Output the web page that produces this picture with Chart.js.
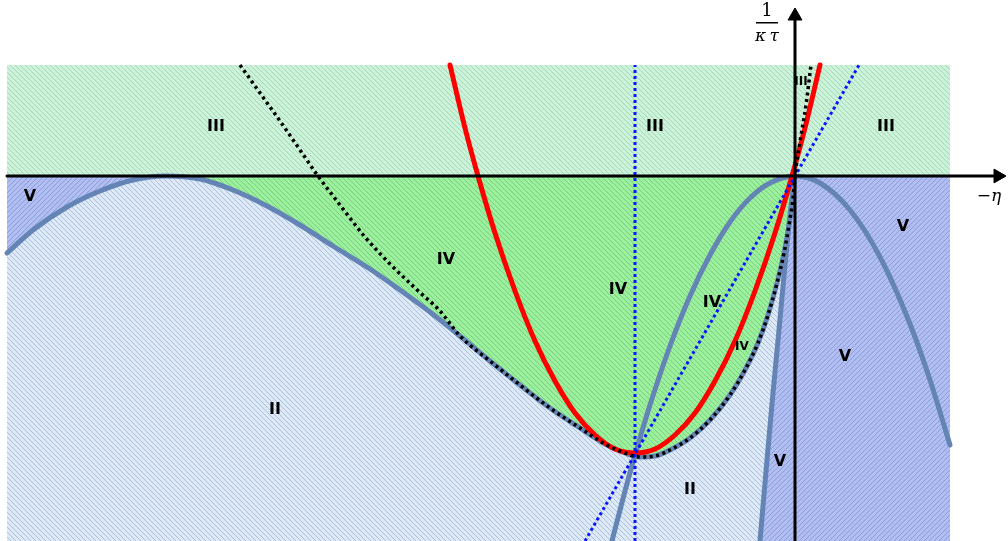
<!DOCTYPE html>
<html>
<head>
<meta charset="utf-8">
<script src="https://cdn.jsdelivr.net/npm/chart.js@4.4.1/dist/chart.umd.min.js"></script>
<style>
  html, body { margin: 0; padding: 0; background: #fff; }
  #wrap { width: 1008px; height: 541px; }
</style>
</head>
<body>
<div id="wrap"><canvas id="chart"></canvas></div>
<script>
// window of the diagram (horizontal: -eta, vertical: 1/(kappa tau))
const xRange = [-7.95, 2.13];
const yRange = [-3.65, 1.76];
const boxLeft = -7.88, boxRight = 1.55, boxTop = 1.11;

// thick steel-blue curve with the two tangencies to the axis
const curveA = [[-7.88,-0.77],[-7.62,-0.54],[-7.28,-0.31],[-6.95,-0.15],[-6.62,-0.04],[-6.30,0],
  [-5.95,-0.03],[-5.62,-0.14],[-5.28,-0.30],[-4.95,-0.49],[-4.62,-0.70],[-4.25,-0.93],[-3.95,-1.14],
  [-3.65,-1.36],[-3.35,-1.60],[-3.05,-1.85],[-2.75,-2.09],[-2.45,-2.32],[-2.15,-2.52],[-1.90,-2.68],
  [-1.70,-2.77],[-1.55,-2.81],[-1.40,-2.80],[-1.25,-2.74],[-1.05,-2.62],[-0.85,-2.44],[-0.65,-2.19],
  [-0.50,-1.94],[-0.37,-1.67],[-0.27,-1.39],[-0.18,-1.07],[-0.11,-0.77],[-0.06,-0.49],[-0.02,-0.22],[0,0]];
// arch through the origin
const curveB = [[-1.83,-3.65],[-1.70,-3.15],[-1.60,-2.79],[-1.45,-2.29],[-1.25,-1.70],[-1.05,-1.20],
  [-0.85,-0.79],[-0.65,-0.46],[-0.45,-0.22],[-0.25,-0.07],[0,0],[0.25,-0.07],[0.55,-0.34],
  [0.85,-0.81],[1.15,-1.48],[1.35,-2.04],[1.55,-2.69]];
// steep curve left of the vertical axis
const curveC = [[-0.35,-3.65],[-0.28,-2.84],[-0.22,-2.17],[-0.16,-1.54],[-0.10,-0.89],[-0.05,-0.39],[-0.02,-0.14],[0,0]];
// red parabola
const redCurve = [[-3.45,1.11],[-3.30,0.48],[-3.17,0],[-3.00,-0.57],[-2.80,-1.15],[-2.60,-1.65],[-2.40,-2.05],
  [-2.20,-2.37],[-2.00,-2.59],[-1.80,-2.73],[-1.60,-2.77],[-1.40,-2.73],[-1.20,-2.59],[-1.00,-2.37],
  [-0.80,-2.05],[-0.60,-1.65],[-0.40,-1.15],[-0.20,-0.57],[-0.03,0],[0.10,0.48],[0.25,1.11]];
// black dotted envelope
const blackDots = [[-5.55,1.11],[-5.35,0.83],[-5.15,0.55],[-4.95,0.26],[-4.77,0],[-4.55,-0.29],[-4.30,-0.61],
  [-4.05,-0.88],[-3.80,-1.12],[-3.55,-1.35],[-3.35,-1.60],[-3.05,-1.85],[-2.75,-2.09],[-2.45,-2.32],
  [-2.15,-2.52],[-1.90,-2.68],[-1.70,-2.77],[-1.55,-2.81],[-1.40,-2.80],[-1.25,-2.74],[-1.05,-2.62],
  [-0.85,-2.44],[-0.65,-2.19],[-0.50,-1.94],[-0.37,-1.67],[-0.27,-1.39],[-0.18,-1.07],[-0.11,-0.77],
  [-0.06,-0.49],[-0.02,-0.22],[0,0],[0.05,0.34],[0.11,0.71],[0.16,1.11]];
// blue dotted lines
const blueDiag = [[-2.10,-3.65],[0,0],[0.64,1.11]];
const blueVert = [[-1.60,-3.65],[-1.60,1.11]];

// region labels
const regionText = ['III','III','III','III','IV','IV','IV','IV','V','V','V','V','II','II'];
const regionPos = [[-5.79,0.49],[-1.40,0.49],[0.91,0.49],[0.06,0.94],[-3.49,-0.84],[-1.77,-1.14],
  [-0.83,-1.27],[-0.53,-1.71],[-7.65,-0.21],[1.08,-0.51],[0.50,-1.81],[-0.15,-2.86],[-5.20,-2.34],[-1.05,-3.14]];
const regionSmall = [false,false,false,true,false,false,false,true,false,false,false,false,false,false];

const pts = arr => arr.map(p => ({ x: p[0], y: p[1] }));

function hatch(bg, fg, dir) {
  const c = document.createElement('canvas');
  c.width = 5; c.height = 5;
  const g = c.getContext('2d');
  g.fillStyle = bg; g.fillRect(0, 0, 5, 5);
  g.fillStyle = fg;
  for (let i = 0; i < 5; i++) {
    g.fillRect(i, dir > 0 ? 4 - i : i, 1, 1);
  }
  return g.createPattern(c, 'repeat');
}

const fillIII = hatch('#cdf2da', '#a3d9b6', -1);
const fillIV = hatch('#9cf09c', '#78cf86', -1);
const fillII = hatch('#dde9f6', '#a9bfda', -1);
const fillV = hatch('#b0bef2', '#8c9cdb', 1);

const steel = '#6384b4';

function region(data, color, fill) {
  return { data: pts(data), borderWidth: 0, pointRadius: 0, backgroundColor: color, fill: fill, tension: 0 };
}
function curve(data, color, width, dash, smooth) {
  return {
    data: pts(data), borderColor: color, borderWidth: width, borderDash: dash || [],
    pointRadius: 0, fill: false, tension: 0,
    cubicInterpolationMode: smooth ? 'monotone' : 'default', borderCapStyle: dash ? 'butt' : 'round'
  };
}

const labelPlugin = {
  id: 'labels',
  afterDatasetsDraw(chart) {
    const ctx = chart.ctx, xs = chart.scales.x, ys = chart.scales.y;
    ctx.save();
    ctx.fillStyle = '#000';
    ctx.textAlign = 'center';
    ctx.textBaseline = 'middle';
    regionText.forEach((t, i) => {
      ctx.font = (regionSmall[i] ? 'bold 12px' : 'bold 16px') + ' "DejaVu Sans", sans-serif';
      ctx.fillText(t, xs.getPixelForValue(regionPos[i][0]), ys.getPixelForValue(regionPos[i][1]));
    });
    // axis names
    const ax = xs.getPixelForValue(-0.28), ay = ys.getPixelForValue(1.54);
    ctx.font = '18px "DejaVu Serif", serif';
    ctx.fillText('1', ax, ay - 11);
    ctx.fillRect(ax - 11, ay, 22, 1.5);
    ctx.font = 'italic 17px "DejaVu Serif", serif';
    ctx.fillText('\u03ba\u2009\u03c4', ax, ay + 15);
    ctx.fillText('\u2212\u03b7', xs.getPixelForValue(1.94), ys.getPixelForValue(-0.21));
    ctx.restore();
  }
};

new Chart(document.getElementById('chart'), {
  type: 'line',
  data: {
    datasets: [
      curve([[boxLeft, 0], [2.02, 0]], '#000', 3),
      curve([[0, yRange[0]], [0, 1.58]], '#000', 3),
      { data: pts([[2.03, 0]]), pointStyle: 'triangle', rotation: 90, pointRadius: 8,
        pointBackgroundColor: '#000', pointBorderColor: '#000', showLine: false },
      { data: pts([[0, 1.60]]), pointStyle: 'triangle', rotation: 0, pointRadius: 8,
        pointBackgroundColor: '#000', pointBorderColor: '#000', showLine: false },
      curve(blackDots, '#000', 3.5, [3, 3.5], true),
      curve(blueVert, '#0a14ff', 3, [3, 3]),
      curve(blueDiag, '#0a14ff', 3, [3, 3]),
      curve(redCurve, '#ff0000', 5, null, true),
      curve(curveA, steel, 5, null, true),
      curve(curveB, steel, 5, null, true),
      curve(curveC, steel, 5, null, true),
      region(curveC, fillV, 'start'),
      region(curveA.slice(5), fillIV, 'origin'),
      region(curveA.slice(0, 6), fillV, 'origin'),
      region([[0, 0], [boxRight, 0]], fillV, 'start'),
      region([[boxLeft, boxTop], [boxRight, boxTop]], fillIII, 'origin'),
      region([[boxLeft, 0], [0, 0]], fillII, 'start')
    ]
  },
  options: {
    responsive: true,
    maintainAspectRatio: false,
    animation: false,
    layout: { padding: 0, autoPadding: false },
    scales: {
      x: { type: 'linear', min: xRange[0], max: xRange[1], display: false },
      y: { type: 'linear', min: yRange[0], max: yRange[1], display: false }
    },
    plugins: { legend: { display: false }, tooltip: { enabled: false } }
  },
  plugins: [labelPlugin]
});
</script>
</body>
</html>
